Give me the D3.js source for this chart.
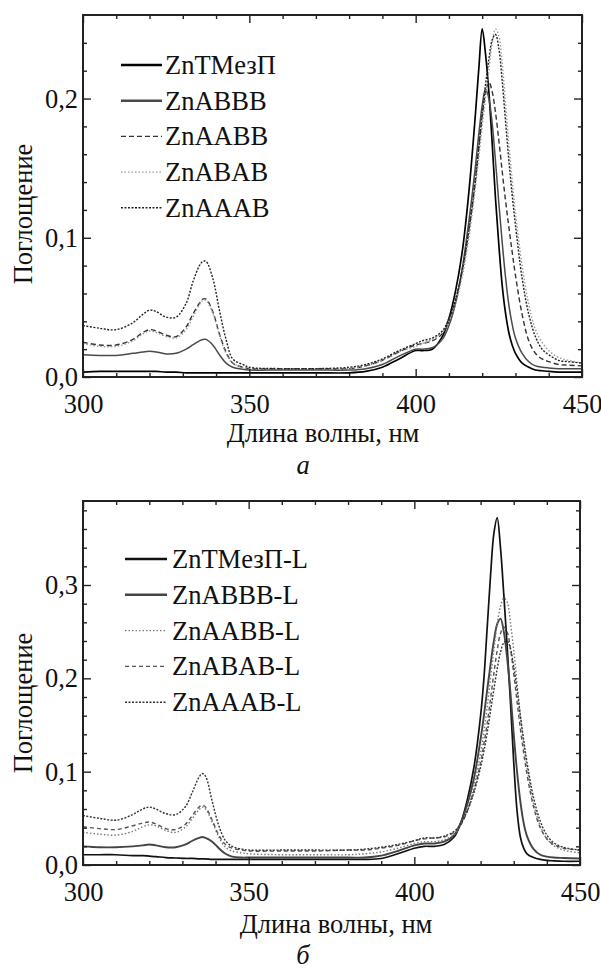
<!DOCTYPE html>
<html><head><meta charset="utf-8">
<script src="https://cdn.jsdelivr.net/npm/d3@7"></script>
<style>
body{margin:0;background:#fff}
svg{display:block}
text{font-family:"Liberation Serif","Tinos","Times New Roman","DejaVu Serif",serif;fill:#111}
</style>
</head><body>
<svg id="c" width="601" height="970"></svg>
<script>
// ---------- DATA ----------
const xTickLabels = ["300","350","400","450"];
const yTickLabelsA = ["0,0","0,1","0,2"];
const yTickLabelsB = ["0,0","0,1","0,2","0,3"];
const yTitle = "Поглощение";
const xTitle = "Длина волны, нм";

const namesA = ["ZnTMезП","ZnABBB","ZnAABB","ZnABAB","ZnAAAB"];
const namesB = ["ZnTMезП-L","ZnABBB-L","ZnAABB-L","ZnABAB-L","ZnAAAB-L"];

const wavelengthsA = [300,305,310,315,318,320,322,325,328,331,
 333,335,336,337,339,341,343,345,348,350,
 360,370,380,385,390,395,400,402,405,408,
 410,412,414,416,418,419,420,421,422,423,
 424,425,426,427,428,429,430,432,434,436,
 438,440,443,446,450];

const a_ZnTMezP = [.0035,.004,.004,.004,.004,.004,.004,.0035,.0035,.003,
 .003,.003,.003,.003,.003,.003,.003,.003,.003,.003,
 .003,.003,.003,.004,.007,.013,.019,.019,.02,.029,
 .042,.062,.09,.133,.19,.222,.25,.232,.205,.168,
 .128,.095,.066,.046,.032,.023,.017,.01,.007,.005,
 .0045,.004,.0035,.0035,.0035];
const a_ZnABBB = [.016,.0155,.0155,.017,.018,.0185,.018,.0165,.017,.02,
 .023,.026,.027,.027,.023,.016,.01,.007,.0055,.005,
 .005,.005,.005,.006,.009,.015,.02,.02,.021,.027,
 .037,.053,.078,.112,.152,.175,.195,.207,.2,.182,
 .155,.125,.097,.072,.052,.038,.028,.017,.011,.008,
 .007,.0065,.006,.006,.006];
const a_ZnAABB = [.025,.023,.023,.027,.032,.034,.033,.03,.029,.036,
 .045,.053,.056,.056,.047,.031,.018,.01,.007,.006,
 .006,.006,.006,.008,.012,.018,.023,.024,.026,.031,
 .04,.055,.077,.106,.143,.166,.188,.204,.212,.205,
 .19,.17,.148,.127,.108,.09,.073,.045,.026,.017,
 .013,.011,.009,.0085,.008];
const a_ZnABAB = [.024,.022,.022,.026,.031,.033,.032,.029,.028,.034,
 .043,.052,.055,.055,.046,.03,.017,.01,.007,.006,
 .006,.006,.006,.008,.012,.018,.022,.024,.027,.032,
 .04,.053,.072,.1,.137,.158,.18,.2,.22,.24,
 .25,.245,.226,.197,.168,.142,.118,.08,.052,.034,
 .025,.019,.014,.012,.01];
const a_ZnAAAB = [.037,.035,.034,.039,.045,.048,.047,.043,.043,.053,
 .068,.08,.083,.083,.071,.048,.027,.013,.009,.007,
 .006,.006,.007,.009,.013,.019,.024,.026,.028,.033,
 .042,.056,.076,.105,.142,.165,.188,.21,.228,.242,
 .246,.236,.213,.184,.156,.131,.109,.071,.045,.029,
 .02,.016,.012,.011,.01];

const wavelengthsB = [300,305,310,315,318,320,322,325,328,331,
 333,335,336,337,339,341,343,345,348,350,
 360,370,380,385,390,395,400,403,406,409,
 412,414,416,418,420,421,422,423,424,425,
 426,427,428,429,430,431,432,433,434,436,
 438,440,442,445,450];

const b_ZnTMezP = [.011,.011,.011,.01,.01,.0095,.009,.008,.0075,.007,
 .007,.0065,.0065,.0065,.006,.006,.006,.006,.006,.006,
 .006,.006,.006,.006,.007,.012,.018,.02,.02,.022,
 .03,.045,.07,.105,.16,.2,.255,.31,.355,.372,
 .34,.29,.235,.175,.11,.058,.03,.018,.012,.008,
 .006,.005,.0045,.004,.004];
const b_ZnABBB = [.02,.019,.019,.02,.021,.022,.021,.019,.019,.022,
 .026,.029,.03,.029,.025,.018,.012,.009,.008,.008,
 .008,.008,.008,.008,.01,.015,.021,.023,.023,.025,
 .032,.045,.065,.093,.135,.16,.188,.215,.24,.258,
 .264,.25,.222,.185,.14,.1,.068,.045,.031,.017,
 .011,.009,.008,.0075,.007];
const b_ZnAABB = [.035,.033,.032,.036,.041,.043,.042,.037,.035,.041,
 .05,.059,.062,.06,.046,.03,.019,.015,.013,.012,
 .011,.011,.011,.012,.014,.018,.023,.025,.025,.027,
 .033,.043,.06,.085,.12,.143,.17,.2,.23,.258,
 .277,.286,.282,.26,.23,.195,.16,.13,.105,.066,
 .042,.028,.021,.016,.013];
const b_ZnABAB = [.041,.039,.038,.042,.045,.046,.044,.039,.038,.044,
 .053,.062,.064,.062,.048,.032,.022,.018,.016,.015,
 .015,.015,.016,.016,.018,.021,.026,.028,.029,.03,
 .035,.043,.058,.08,.11,.13,.152,.178,.205,.23,
 .248,.255,.25,.232,.205,.175,.146,.12,.097,.062,
 .04,.028,.022,.018,.016];
const b_ZnAAAB = [.053,.05,.048,.054,.06,.062,.06,.055,.054,.063,
 .078,.094,.098,.095,.068,.042,.026,.02,.017,.016,
 .016,.016,.016,.017,.019,.022,.026,.029,.029,.031,
 .036,.044,.058,.078,.105,.122,.142,.165,.188,.21,
 .228,.238,.24,.232,.212,.188,.16,.134,.11,.072,
 .047,.032,.024,.019,.016];

// ---------- STYLES ----------
const FONT = "'Liberation Serif','Tinos','Times New Roman','DejaVu Serif',serif";
const stylesA = [
  {stroke:"#000", w:1.7, dash:null, lw:2.4},
  {stroke:"#4a4a4a", w:1.5, dash:null, lw:2.4},
  {stroke:"#333", w:1.4, dash:"5,3", lw:1.4},
  {stroke:"#999", w:1.4, dash:"1.5,2", lw:1.4},
  {stroke:"#222", w:1.4, dash:"2,1.5", lw:1.4}
];
const stylesB = [
  {stroke:"#111", w:1.7, dash:null, lw:2.4},
  {stroke:"#444", w:1.9, dash:null, lw:2.6},
  {stroke:"#777", w:1.4, dash:"1.5,2", lw:1.4},
  {stroke:"#555", w:1.4, dash:"4,3", lw:1.4},
  {stroke:"#333", w:1.4, dash:"2,1.5", lw:1.4}
];

const svg = d3.select("#c");
const FS = 26.5;

function panel(cfg){
  const g = svg.append("g");
  const x = d3.scaleLinear().domain([300,450]).range([cfg.left, cfg.right]);
  const y = d3.scaleLinear().domain([0, cfg.ymax]).range([cfg.bottom, cfg.top]);
  const majorX = [300,350,400,450];
  const minorX = d3.range(310,450,10).filter(v=>v%50!==0);
  const majorY = cfg.yMajor;
  const minorY = d3.range(0.02, cfg.ymax, 0.02).map(v=>+v.toFixed(2)).filter(v=>Math.abs(v*10-Math.round(v*10))>1e-6);

  const line = d3.line().x(d=>x(d[0])).y(d=>y(d[1])).curve(d3.curveCatmullRom.alpha(0.5));
  cfg.series.forEach((s,i)=>{
    const st = cfg.styles[i];
    g.append("path")
      .datum(cfg.wl.map((w,j)=>[w,s[j]]))
      .attr("d", line)
      .attr("fill","none")
      .attr("stroke", st.stroke)
      .attr("stroke-width", st.w)
      .attr("stroke-dasharray", st.dash)
      .attr("stroke-linejoin","round");
  });

  function styleAxis(sel){
    sel.attr("font-family", FONT).attr("font-size", FS);
    sel.select(".domain").remove();
    sel.selectAll("line").attr("stroke","#222").attr("stroke-width",1.4);
    sel.selectAll("text").attr("font-size",FS).attr("font-family",FONT).attr("fill","#111");
  }
  g.append("g").attr("transform",`translate(0,${cfg.bottom})`)
    .call(d3.axisBottom(x).tickValues(majorX).tickSize(-8).tickPadding(17).tickFormat((d,i)=>xTickLabels[i]))
    .call(styleAxis);
  g.append("g").attr("transform",`translate(0,${cfg.bottom})`)
    .call(d3.axisBottom(x).tickValues(minorX).tickSize(-4).tickFormat(""))
    .call(styleAxis);
  g.append("g").attr("transform",`translate(0,${cfg.top})`)
    .call(d3.axisTop(x).tickValues(majorX).tickSize(-8).tickFormat(""))
    .call(styleAxis);
  g.append("g").attr("transform",`translate(0,${cfg.top})`)
    .call(d3.axisTop(x).tickValues(minorX).tickSize(-4).tickFormat(""))
    .call(styleAxis);
  g.append("g").attr("transform",`translate(${cfg.left},0)`)
    .call(d3.axisLeft(y).tickValues(majorY).tickSize(-8).tickPadding(5).tickFormat((d,i)=>cfg.yLabels[i]))
    .call(styleAxis);
  g.append("g").attr("transform",`translate(${cfg.left},0)`)
    .call(d3.axisLeft(y).tickValues(minorY).tickSize(-4).tickFormat(""))
    .call(styleAxis);
  g.append("g").attr("transform",`translate(${cfg.right},0)`)
    .call(d3.axisRight(y).tickValues(majorY).tickSize(-8).tickFormat(""))
    .call(styleAxis);
  g.append("g").attr("transform",`translate(${cfg.right},0)`)
    .call(d3.axisRight(y).tickValues(minorY).tickSize(-4).tickFormat(""))
    .call(styleAxis);

  g.append("rect").attr("x",cfg.left).attr("y",cfg.top)
    .attr("width",cfg.right-cfg.left).attr("height",cfg.bottom-cfg.top)
    .attr("fill","none").attr("stroke","#222").attr("stroke-width",2);

  cfg.names.forEach((n,i)=>{
    const st = cfg.styles[i];
    const ly = cfg.legY + i*cfg.legDy;
    g.append("line").attr("x1",cfg.legX1).attr("x2",cfg.legX2).attr("y1",ly).attr("y2",ly)
      .attr("stroke",st.stroke).attr("stroke-width",st.lw).attr("stroke-dasharray",st.dash);
    g.append("text").attr("x",cfg.legTx).attr("y",ly+9).attr("font-size",FS).attr("font-family",FONT).text(n);
  });

  g.append("text").attr("transform",`translate(${cfg.yTitleX},${cfg.yTitleY}) rotate(-90)`)
    .attr("text-anchor","middle").attr("font-size",FS).attr("font-family",FONT).text(yTitle);
  g.append("text").attr("x",cfg.xTitleX).attr("y",cfg.xTitleY)
    .attr("text-anchor","middle").attr("font-size",FS).attr("font-family",FONT).text(xTitle);
  g.append("text").attr("x",cfg.labX).attr("y",cfg.labY)
    .attr("text-anchor","middle").attr("font-size",FS).attr("font-family",FONT).attr("font-style","italic").text(cfg.lab);
}

panel({
  left:83, right:582, top:15, bottom:377, ymax:0.26,
  yMajor:[0,0.1,0.2], yLabels:yTickLabelsA,
  wl:wavelengthsA, series:[a_ZnTMezP,a_ZnABBB,a_ZnAABB,a_ZnABAB,a_ZnAAAB],
  styles:stylesA, names:namesA,
  legY:65, legDy:35.7, legX1:121, legX2:162, legTx:165,
  yTitleX:32, yTitleY:214, xTitleX:323, xTitleY:442, lab:"а", labX:303, labY:474
});
panel({
  left:83, right:580, top:501, bottom:865, ymax:0.39,
  yMajor:[0,0.1,0.2,0.3], yLabels:yTickLabelsB,
  wl:wavelengthsB, series:[b_ZnTMezP,b_ZnABBB,b_ZnAABB,b_ZnABAB,b_ZnAAAB],
  styles:stylesB, names:namesB,
  legY:559, legDy:35.8, legX1:125, legX2:167, legTx:172,
  yTitleX:32, yTitleY:703, xTitleX:336, xTitleY:933, lab:"б", labX:303, labY:964
});
</script>
</body></html>
